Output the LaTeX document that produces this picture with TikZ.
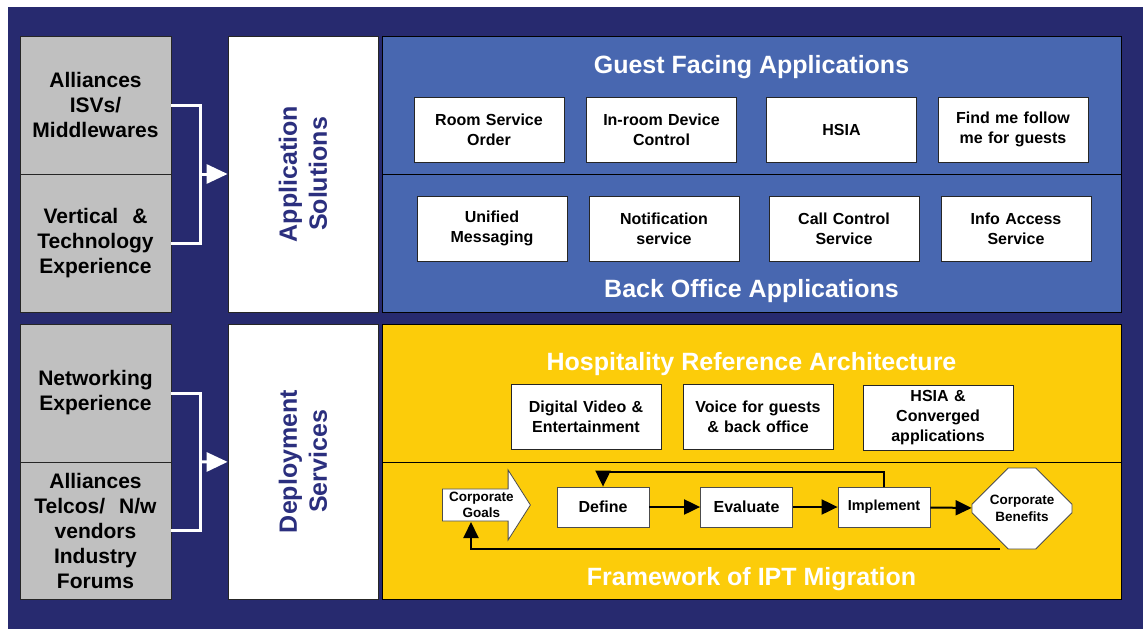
\documentclass[tikz,border=0pt]{standalone}
\usepackage{xcolor}
\usepackage{fontspec}
\setmainfont{Liberation Sans}
\usepackage{tikz}
\usetikzlibrary{shapes.geometric, shapes.misc, shapes.arrows, arrows.meta,
                positioning, calc}
\definecolor{navybg}{HTML}{272A6F}
\definecolor{navytxt}{HTML}{2B2F7E}
\definecolor{appblue}{HTML}{4867B0}
\definecolor{hotelgold}{HTML}{FCCC0A}
\definecolor{partnergrey}{HTML}{C0C0C0}
\tikzset{
  partner/.style={rectangle, draw=black!85, fill=partnergrey, inner sep=0pt,
                  minimum width=151pt, minimum height=138pt, text width=145pt,
                  align=center, font=\fontsize{21}{25}\selectfont\bfseries,
                  line width=0.8pt},
  pillar/.style={rectangle, draw=black!85, fill=white, rotate=90, inner sep=0pt,
                 minimum width=276pt, minimum height=150pt, align=center,
                 text=navytxt, font=\fontsize{25}{30}\selectfont\bfseries,
                 line width=0.8pt},
  panel/.style={rectangle, draw=black, line width=0.8pt, inner sep=0pt,
                minimum width=739pt, minimum height=138pt},
  heading/.style={text=white, font=\fontsize{25}{30}\selectfont\bfseries},
  app/.style={rectangle, draw=black!85, fill=white, inner sep=0pt,
              minimum width=150pt, minimum height=65pt, text width=146pt,
              align=center, font=\fontsize{16}{20}\selectfont\bfseries,
              line width=0.8pt},
  stepbox/.style={rectangle, draw=black!70, fill=white, inner sep=0pt,
                  minimum width=92pt, minimum height=40pt,
                  font=\fontsize{16}{19}\selectfont\bfseries, line width=0.8pt},
  merge/.style={draw=white, line width=3pt},
  feed/.style={draw=white, line width=3pt, -{Triangle[length=21pt,width=19pt]}},
  flow/.style={draw=black, line width=2pt, -{Triangle[length=16pt,width=15pt]}},
}

\begin{document}
\begin{tikzpicture}[x=1pt, y=-1pt]
  \useasboundingbox (0,0) rectangle (1143,629);
  \fill[navybg] (8,7) rectangle (1143,629);

  % Partners
  \node[partner] (isv) at (95.5,105) {Alliances\\ISVs/\\Middlewares};
  \node[partner] (vertical) at (95.5,243) {Vertical \ \&\\Technology\\Experience};
  \node[partner] (networking) at (95.5,393) {Networking\\Experience};
  \node[partner, minimum height=137pt] (telcos) at (95.5,530.5)
    {Alliances\\Telcos/ \ N/w\\vendors\\Industry\\Forums};

  % Pillars
  \node[pillar] (appsol) at (303,174) {Application\\Solutions};
  \node[pillar, minimum width=275pt] (deploy) at (303,461.5) {Deployment\\Services};

  % Application panel
  \node[panel, fill=appblue] (guest) at (751.5,105) {};
  \node[panel, fill=appblue] (backoffice) at (751.5,243) {};
  \node[heading] (guesttitle) at (751.5,67) {Guest Facing Applications};
  \node[heading] (backtitle) at (751.5,291) {Back Office Applications};

  \node[app] (roomsvc) at (489,129.5) {Room Service\\Order};
  \node[app] (inroom) at (661.5,129.5) {In-room Device\\Control};
  \node[app] (hsia) at (841.5,129.5) {HSIA};
  \node[app] (findme) at (1013,129.5) {Find me follow\\me for guests};

  \node[app] (unified) at (492,228.5) {Unified\\Messaging};
  \node[app] (notify) at (664,228.5) {Notification\\service};
  \node[app] (callctl) at (844,228.5) {Call Control\\Service};
  \node[app] (infoacc) at (1016,228.5) {Info Access\\Service};

  % Deployment panel
  \node[panel, fill=hotelgold] (refarch) at (751.5,393) {};
  \node[panel, fill=hotelgold, minimum height=137pt] (framework) at (751.5,530.5) {};
  \node[heading] (archtitle) at (751.5,364) {Hospitality Reference Architecture};
  \node[heading] (frametitle) at (751.5,579) {Framework of IPT Migration};

  \node[app] (video) at (586,416.5) {Digital Video \&\\Entertainment};
  \node[app] (voice) at (758,416.5) {Voice for guests\\\& back office};
  \node[app] (converged) at (938,417.5) {HSIA \&\\Converged\\applications};

  % Migration steps
  \node[single arrow, draw=black!70, fill=white, line width=0.8pt,
        single arrow head extend=18pt, single arrow tip angle=115,
        minimum width=70pt, minimum height=88pt, inner xsep=1pt, inner ysep=2pt,
        align=center, font=\fontsize{13.5}{16}\selectfont\bfseries,
        anchor=tail] (goals) at (442,505) {Corporate\\Goals};
  \node[stepbox] (define) at (603,507) {Define};
  \node[stepbox] (evaluate) at (746.5,507) {Evaluate};
  \node[stepbox, font=\fontsize{14.5}{17}\selectfont\bfseries] (implement)
    at (884,507) {Implement};
  \node[chamfered rectangle, chamfered rectangle xsep=25pt,
        chamfered rectangle ysep=23pt, draw=black!70, fill=white,
        line width=0.8pt, inner sep=0pt, minimum width=100pt, minimum height=81pt,
        align=center, font=\fontsize{13.5}{17}\selectfont\bfseries]
    (benefits) at (1022,508.5) {Corporate\\Benefits};

  % Edges
  \coordinate (joinA) at (200,174);
  \coordinate (joinD) at (200,462);
  \draw[merge] (isv.east) -| (joinA) |- (vertical.east);
  \draw[feed] (joinA) -- (appsol);
  \draw[merge] (networking.east) -| (joinD) |- (telcos.east);
  \draw[feed] (joinD) -- (deploy);

  \draw[flow] (define) -- (evaluate);
  \draw[flow] (evaluate) -- (implement);
  \draw[flow] (implement) -- (benefits);
  \draw[flow] (implement.north) -- ++(0,-15) -| (define.north);
  \draw[flow] ([xshift=-22pt]benefits.south) -| ($(goals.tail)+(29,17)$);

\end{tikzpicture}
\end{document}
